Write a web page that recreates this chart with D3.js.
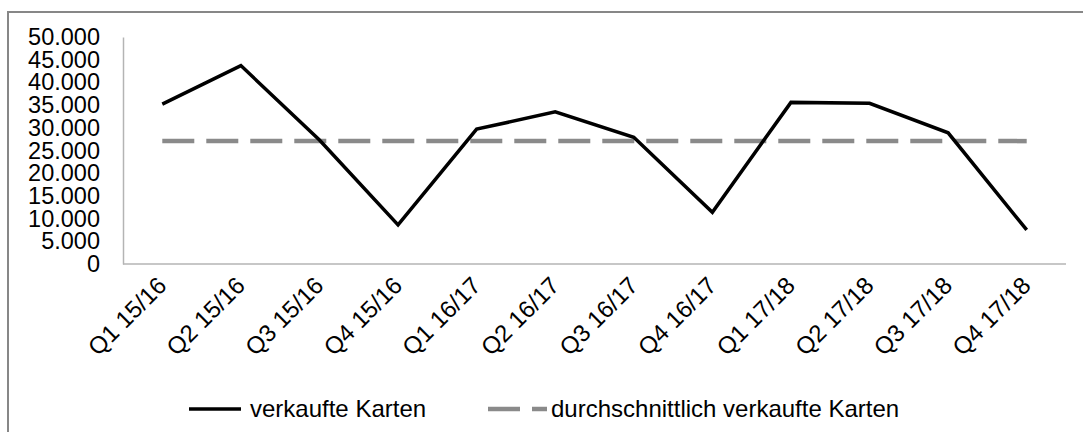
<!DOCTYPE html>
<html>
<head>
<meta charset="utf-8">
<script src="https://cdn.jsdelivr.net/npm/d3@7"></script>
<style>
  body { margin: 0; background: #fff; }
  text { font-family: "Liberation Sans", Arial, sans-serif; }
</style>
</head>
<body>
<div id="chart-area"></div>
<script>
const quarters = ["Q1 15/16", "Q2 15/16", "Q3 15/16", "Q4 15/16",
                  "Q1 16/17", "Q2 16/17", "Q3 16/17", "Q4 16/17",
                  "Q1 17/18", "Q2 17/18", "Q3 17/18", "Q4 17/18"];
const soldTickets = [35200, 43700, 27300, 8600, 29700, 33500, 27900, 11400, 35600, 35400, 28900, 7500];
const averageTickets = 27070;
const yTicks = [0, 5000, 10000, 15000, 20000, 25000, 30000, 35000, 40000, 45000, 50000];
const legendLabels = ["verkaufte Karten", "durchschnittlich verkaufte Karten"];

const W = 1083, H = 432;
const margin = { top: 37, right: 17, bottom: 168, left: 123 };
const width = W - margin.left - margin.right;
const height = H - margin.top - margin.bottom;

const de = d3.formatLocale({ decimal: ",", thousands: ".", grouping: [3], currency: ["", "€"] });
const fmt = de.format(",");

const svg = d3.select("#chart-area")
    .append("svg")
    .attr("width", W)
    .attr("height", H);

// chart frame
svg.append("rect")
    .attr("x", 8).attr("y", 12)
    .attr("width", W + 20).attr("height", H + 20)
    .attr("fill", "none")
    .attr("stroke", "#878787")
    .attr("stroke-width", 2);

const g = svg.append("g")
    .attr("transform", `translate(${margin.left}, ${margin.top})`);

const x = d3.scalePoint()
    .domain(quarters)
    .range([0, width])
    .padding(0.5);

const y = d3.scaleLinear()
    .domain([0, 50000])
    .range([height, 0]);

// y axis
const yAxis = g.append("g")
    .call(d3.axisLeft(y).tickValues(yTicks).tickSize(0).tickPadding(23).tickFormat(fmt));
yAxis.select(".domain").attr("stroke", "#b4b4b4").attr("stroke-width", 1.5);
yAxis.selectAll("text").attr("font-size", 23.5).attr("fill", "#000");

// x axis
const xAxis = g.append("g")
    .attr("transform", `translate(0, ${height})`)
    .call(d3.axisBottom(x).tickSize(0).tickFormat(d => d));
xAxis.select(".domain").attr("stroke", "#b4b4b4").attr("stroke-width", 1.5)
    .attr("d", `M0,0H${width}`);
xAxis.selectAll("text")
    .attr("font-size", 24)
    .attr("fill", "#000")
    .attr("text-anchor", "end")
    .attr("dy", "0.35em")
    .attr("transform", "translate(-3, 15) rotate(-45)");

// average line
g.append("line")
    .attr("x1", x(quarters[0]))
    .attr("x2", x(quarters[quarters.length - 1]))
    .attr("y1", y(averageTickets))
    .attr("y2", y(averageTickets))
    .attr("stroke", "#8a8a8a")
    .attr("stroke-width", 4.5)
    .attr("stroke-dasharray", "32,12");

// sold tickets
const line = d3.line()
    .x((d, i) => x(quarters[i]))
    .y(d => y(d));

g.append("path")
    .datum(soldTickets)
    .attr("d", line)
    .attr("fill", "none")
    .attr("stroke", "#000")
    .attr("stroke-width", 3.5)
    .attr("stroke-linejoin", "miter");

// legend
const legend = svg.append("g").attr("transform", "translate(0, 409)");
legend.append("line")
    .attr("x1", 189).attr("x2", 241)
    .attr("stroke", "#000").attr("stroke-width", 3.5);
legend.append("text")
    .attr("x", 250).attr("dy", "0.35em")
    .attr("font-size", 24)
    .text(legendLabels[0]);
legend.append("line")
    .attr("x1", 488).attr("x2", 547)
    .attr("stroke", "#8a8a8a").attr("stroke-width", 4.5)
    .attr("stroke-dasharray", "32,12");
legend.append("text")
    .attr("x", 551).attr("dy", "0.35em")
    .attr("font-size", 24)
    .text(legendLabels[1]);
</script>
</body>
</html>
